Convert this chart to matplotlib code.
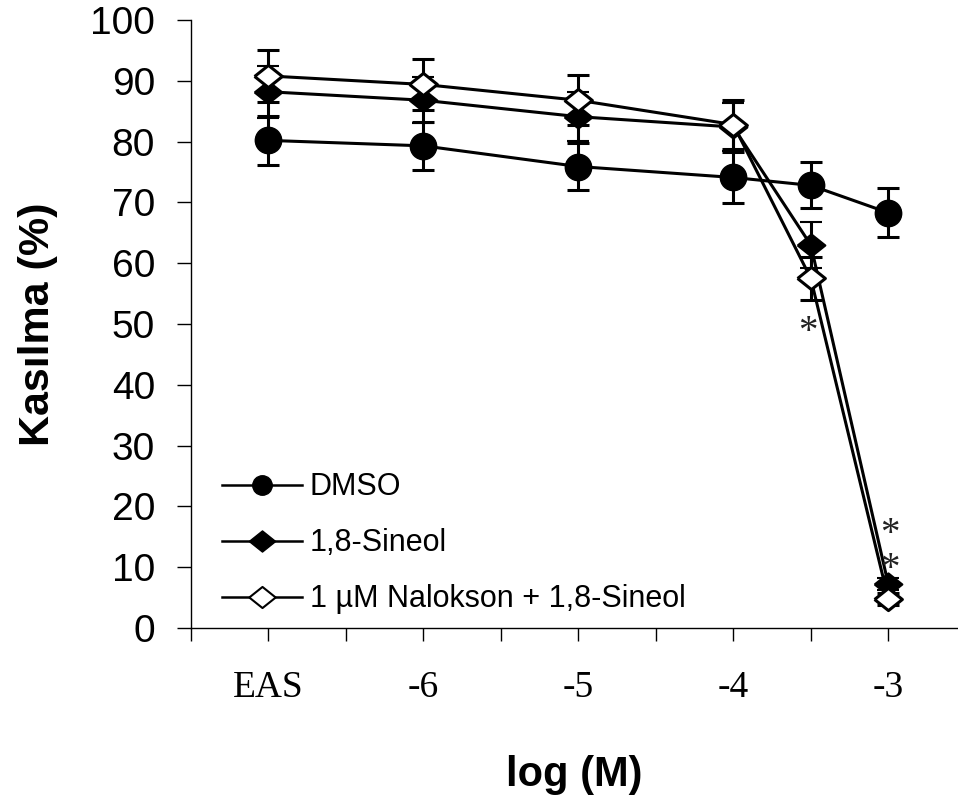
import numpy as np
import matplotlib
matplotlib.use("Agg")
import matplotlib.pyplot as plt
from matplotlib.lines import Line2D

# ---- data ----
log_conc = [-7, -6, -5, -4, -3.5, -3]          # EAS plotted at -7
tick_label_map = {-7: "EAS", -6: "-6", -5: "-5", -4: "-4", -3: "-3"}

dmso = [80.2, 79.3, 75.9, 74.1, 72.8, 68.3]
dmso_err = [4.0, 4.0, 3.8, 4.2, 3.8, 4.0]

sineol = [88.2, 86.8, 84.1, 82.4, 63.0, 7.2]
sineol_err = [4.3, 3.8, 4.0, 4.0, 3.8, 1.0]

nalokson = [90.8, 89.4, 86.8, 82.8, 57.5, 4.8]
nalokson_err = [4.3, 4.2, 4.1, 4.0, 3.6, 1.0]

series_labels = ["DMSO", "1,8-Sineol", "1 µM Nalokson + 1,8-Sineol"]

# significance asterisks (x, y)
star_x = [-3.52, -2.99, -2.99]
star_y = [48.6, 15.3, 9.7]

# ---- figure ----
fig = plt.figure(figsize=(9.58, 8.01), dpi=100)
ax = fig.add_axes([191 / 958, 173 / 801, 767 / 958, 608 / 801])

diamond = [(-1, 0), (0, 0.8), (1, 0), (0, -0.8), (-1, 0)]

common = dict(color="black", lw=2.2, elinewidth=2.2, capsize=8, capthick=2.2)
ax.errorbar(log_conc, dmso, yerr=dmso_err, marker="o", ms=19,
            mfc="black", mec="black", zorder=3, **common)
ax.errorbar(log_conc, sineol, yerr=sineol_err, marker=diamond, ms=20,
            mfc="black", mec="black", mew=1.5, zorder=4, **common)
ax.errorbar(log_conc, nalokson, yerr=nalokson_err, marker=diamond, ms=20,
            mfc="white", mec="black", mew=2.2, zorder=5, **common)

for sx, sy in zip(star_x, star_y):
    ax.text(sx, sy, "*", fontsize=28, family="Liberation Serif",
            color="#222222", ha="center", va="center", zorder=6)

ax.set_xlim(-7.5, -2.55)
ax.set_ylim(0, 100)
xt = np.arange(-7.5, -2.9, 0.5)
ax.set_xticks(xt)
ax.set_xticklabels([tick_label_map.get(v, "") for v in xt],
                   family="Liberation Serif", fontsize=27)
ax.set_yticks(np.arange(0, 101, 10))
ax.set_yticklabels([str(v) for v in range(0, 101, 10)],
                   family="Liberation Sans", fontsize=28)

ax.tick_params(axis="x", direction="out", length=9.5, width=1.0, pad=21)
ax.tick_params(axis="y", direction="out", length=10, width=1.0, pad=16)

for s in ["top", "right"]:
    ax.spines[s].set_visible(False)
for s in ["left", "bottom"]:
    ax.spines[s].set_linewidth(1.0)

ax.set_ylabel("Kasılma (%)", family="Liberation Sans", fontsize=31,
              fontweight="bold", labelpad=23)
ax.set_xlabel("log (M)", family="Liberation Sans", fontsize=30,
              fontweight="bold", labelpad=36)

handles = [
    Line2D([], [], color="black", lw=1.8, marker="o", ms=14, mfc="black", mec="black"),
    Line2D([], [], color="black", lw=1.8, marker=diamond, ms=19, mfc="black", mec="black"),
    Line2D([], [], color="black", lw=1.8, marker=diamond, ms=19, mfc="white", mec="black", mew=1.5),
]
ax.legend(handles, series_labels, loc="upper left", bbox_to_anchor=(0.04, 0.256),
          frameon=False, prop={"family": "Liberation Sans", "size": 22},
          handlelength=2.62, handletextpad=0.26, labelspacing=0.85,
          borderaxespad=0, borderpad=0)

fig.savefig("out.png", dpi=100)
